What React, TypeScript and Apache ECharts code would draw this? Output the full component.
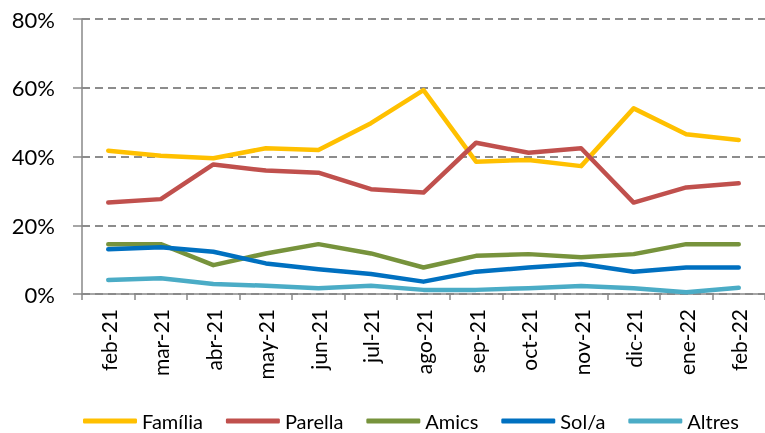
import React, { useEffect, useRef } from "react";
import * as echarts from "echarts";

const categories = ["feb-21", "mar-21", "abr-21", "may-21", "jun-21", "jul-21", "ago-21", "sep-21", "oct-21", "nov-21", "dic-21", "ene-22", "feb-22"];
const familia = [41.7, 40.2, 39.5, 42.4, 41.9, 49.7, 59.3, 38.5, 39.0, 37.2, 54.0, 46.5, 44.8];
const parella = [26.6, 27.6, 37.7, 35.9, 35.3, 30.5, 29.5, 44.0, 41.1, 42.4, 26.6, 31.0, 32.2];
const amics = [14.5, 14.5, 8.4, 11.8, 14.5, 11.8, 7.7, 11.1, 11.6, 10.7, 11.6, 14.5, 14.5];
const sola = [13.0, 13.6, 12.3, 8.9, 7.2, 5.8, 3.6, 6.5, 7.7, 8.7, 6.5, 7.7, 7.7];
const altres = [4.1, 4.6, 2.9, 2.4, 1.7, 2.4, 1.2, 1.2, 1.7, 2.3, 1.7, 0.5, 1.8];
const seriesNames = ["Família", "Parella", "Amics", "Sol/a", "Altres"];
const seriesColors = ["#FFC000", "#C0504D", "#77933C", "#0070C0", "#4BACC6"];
const yTicks = [0, 20, 40, 60, 80];

export default function App() {
  const ref = useRef<HTMLDivElement>(null);
  useEffect(() => {
    if (!ref.current) return;
    const chart = echarts.init(ref.current, null, { renderer: "svg" });
    const data = [familia, parella, amics, sola, altres];
    chart.setOption({
      animation: false,
      textStyle: { fontFamily: "Lato" },
      grid: { left: 82, top: 19, width: 691, height: 275 },
      legend: {
        top: 406,
        left: 78,
        itemWidth: 54,
        itemHeight: 5,
        itemGap: 23,
        icon: "roundRect",
        textStyle: { fontFamily: "Lato", fontSize: 20, color: "#000" },
        data: seriesNames,
      },
      xAxis: {
        type: "category",
        data: categories,
        boundaryGap: true,
        axisLine: { lineStyle: { color: "#898989", width: 1.5 } },
        axisTick: { show: true, length: 6, lineStyle: { color: "#898989", width: 1.5 } },
        axisLabel: { rotate: 90, fontSize: 21, color: "#000", margin: 15, fontFamily: "Lato" },
      },
      yAxis: {
        type: "value",
        min: yTicks[0],
        max: yTicks[yTicks.length - 1],
        interval: 20,
        axisLine: { show: true, lineStyle: { color: "#898989", width: 1.5 } },
        axisTick: { show: true, length: 9, lineStyle: { color: "#898989", width: 1.5 } },
        axisLabel: { formatter: "{value}%", fontSize: 22, color: "#000", margin: 27, fontFamily: "Lato" },
        splitLine: { show: true, lineStyle: { color: "#8c8c8c", width: 2, type: [8, 5] } },
      },
      series: seriesNames.map((n, i) => ({
        name: n,
        type: "line",
        data: data[i],
        showSymbol: false,
        symbol: "none",
        lineStyle: { width: 4.5, color: seriesColors[i], cap: "round", join: "round" },
        itemStyle: { color: seriesColors[i] },
      })),
    });
    return () => chart.dispose();
  }, []);
  return <div ref={ref} style={{ position: "fixed", left: 0, top: 0, width: 765, height: 433 }} />;
}
